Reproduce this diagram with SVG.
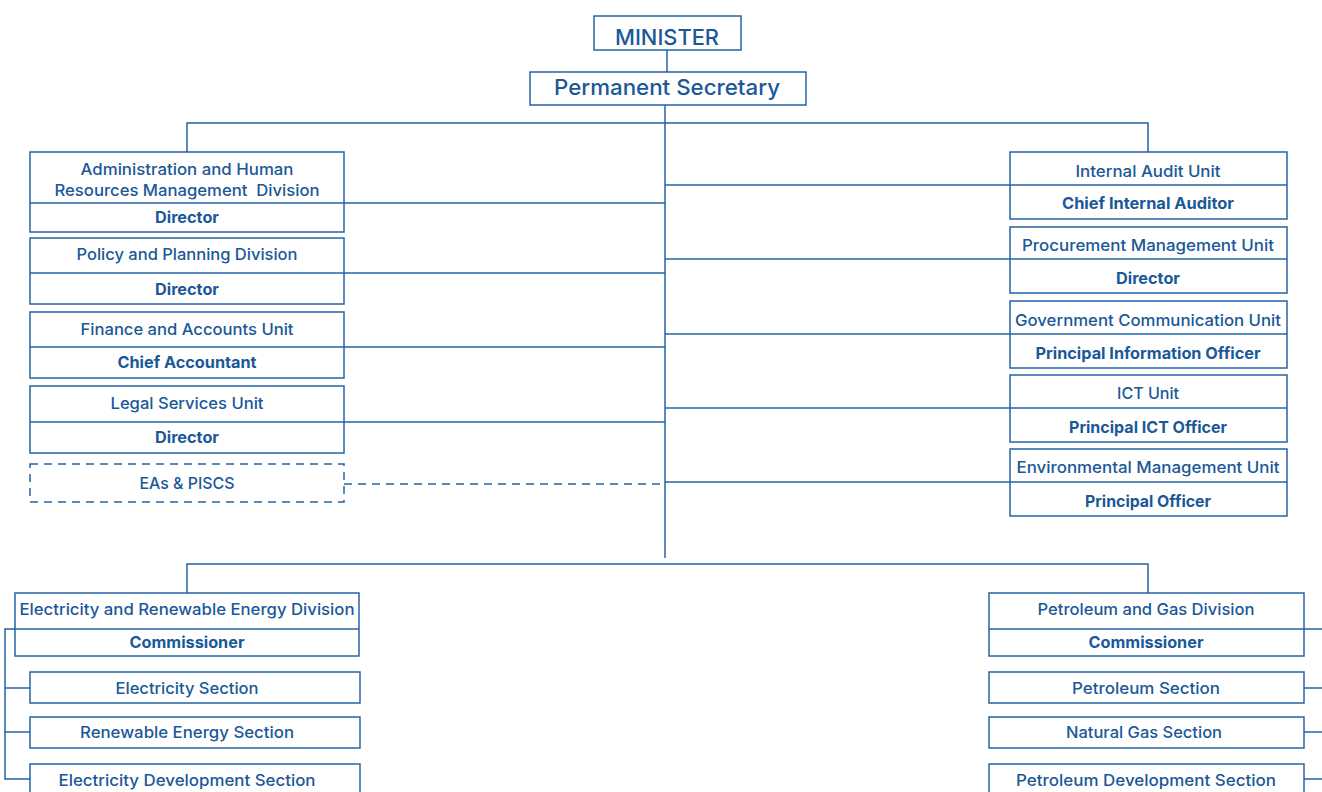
<svg xmlns="http://www.w3.org/2000/svg" width="1322" height="792" viewBox="0 0 1322 792">
  <style>
    .box { fill: #ffffff; stroke: #2563a6; stroke-width: 1.5; }
    .dashbox { fill: #ffffff; stroke: #2563a6; stroke-width: 1.5; stroke-dasharray: 8 6; }
    .div { stroke: #2563a6; stroke-width: 1.5; fill: none; }
    .link { stroke: #2563a6; stroke-width: 1.5; fill: none; }
    .dash { stroke: #2563a6; stroke-width: 1.5; fill: none; stroke-dasharray: 8 6; }
    text { font-family: Inter, "Open Sans", "Liberation Sans", sans-serif; fill: #1a5898; text-anchor: middle; font-size: 16px; font-weight: 500; }
    .b { font-weight: 700; font-size: 16px; }
    .big { font-size: 22px; font-weight: 500; }
  </style>

  <!-- connectors -->
  <g id="connectors">
    <line class="link" x1="667" y1="50" x2="667" y2="72"/>
    <line class="link" x1="665" y1="105" x2="665" y2="558"/>
    <polyline class="link" points="187,152 187,123 1148,123 1148,152"/>
    <!-- left staff units -->
    <line class="link" x1="344" y1="203" x2="665" y2="203"/>
    <line class="link" x1="344" y1="273" x2="665" y2="273"/>
    <line class="link" x1="344" y1="347" x2="665" y2="347"/>
    <line class="link" x1="344" y1="422" x2="665" y2="422"/>
    <line class="dash" x1="344" y1="484" x2="665" y2="484"/>
    <!-- right staff units -->
    <line class="link" x1="665" y1="185" x2="1010" y2="185"/>
    <line class="link" x1="665" y1="259" x2="1010" y2="259"/>
    <line class="link" x1="665" y1="334" x2="1010" y2="334"/>
    <line class="link" x1="665" y1="408" x2="1010" y2="408"/>
    <line class="link" x1="665" y1="482" x2="1010" y2="482"/>
    <!-- divisions bus -->
    <polyline class="link" points="187,593 187,564 1148,564 1148,593"/>
    <!-- electricity division sections -->
    <polyline class="link" points="15,629 5,629 5,779 30,779"/>
    <line class="link" x1="5" y1="688" x2="30" y2="688"/>
    <line class="link" x1="5" y1="732" x2="30" y2="732"/>
    <!-- petroleum division sections -->
    <line class="link" x1="1304" y1="629" x2="1322" y2="629"/>
    <line class="link" x1="1304" y1="688" x2="1322" y2="688"/>
    <line class="link" x1="1304" y1="732" x2="1322" y2="732"/>
    <line class="link" x1="1304" y1="779" x2="1322" y2="779"/>
  </g>

  <g id="minister">
    <rect class="box" x="594" y="16" width="147" height="34"/>
    <text class="big" x="667" y="45" textLength="104" lengthAdjust="spacingAndGlyphs">MINISTER</text>
  </g>

  <g id="permanent-secretary">
    <rect class="box" x="530" y="72" width="276" height="33"/>
    <text class="big" x="667" y="95" textLength="226" lengthAdjust="spacingAndGlyphs">Permanent Secretary</text>
  </g>

  <g id="admin-hr">
    <rect class="box" x="30" y="152" width="314" height="80"/>
    <line class="div" x1="30" y1="203" x2="344" y2="203"/>
    <text x="187" y="175" textLength="213" lengthAdjust="spacingAndGlyphs">Administration and Human</text>
    <text x="187" y="196" xml:space="preserve" textLength="265" lengthAdjust="spacingAndGlyphs">Resources Management  Division</text>
    <text class="b" x="187" y="223" textLength="64" lengthAdjust="spacingAndGlyphs">Director</text>
  </g>

  <g id="policy-planning">
    <rect class="box" x="30" y="238" width="314" height="66"/>
    <line class="div" x1="30" y1="273" x2="344" y2="273"/>
    <text x="187" y="260" textLength="221" lengthAdjust="spacingAndGlyphs">Policy and Planning Division</text>
    <text class="b" x="187" y="295" textLength="64" lengthAdjust="spacingAndGlyphs">Director</text>
  </g>

  <g id="finance-accounts">
    <rect class="box" x="30" y="312" width="314" height="66"/>
    <line class="div" x1="30" y1="347" x2="344" y2="347"/>
    <text x="187" y="335" textLength="213" lengthAdjust="spacingAndGlyphs">Finance and Accounts Unit</text>
    <text class="b" x="187" y="368" textLength="139" lengthAdjust="spacingAndGlyphs">Chief Accountant</text>
  </g>

  <g id="legal-services">
    <rect class="box" x="30" y="386" width="314" height="67"/>
    <line class="div" x1="30" y1="422" x2="344" y2="422"/>
    <text x="187" y="409" textLength="153" lengthAdjust="spacingAndGlyphs">Legal Services Unit</text>
    <text class="b" x="187" y="443" textLength="64" lengthAdjust="spacingAndGlyphs">Director</text>
  </g>

  <g id="eas-piscs">
    <rect class="dashbox" x="30" y="464" width="314" height="38"/>
    <text x="187" y="489" textLength="95" lengthAdjust="spacingAndGlyphs">EAs &amp; PISCS</text>
  </g>

  <g id="internal-audit">
    <rect class="box" x="1010" y="152" width="277" height="67"/>
    <line class="div" x1="1010" y1="185" x2="1287" y2="185"/>
    <text x="1148" y="177" textLength="145" lengthAdjust="spacingAndGlyphs">Internal Audit Unit</text>
    <text class="b" x="1148" y="209" textLength="172" lengthAdjust="spacingAndGlyphs">Chief Internal Auditor</text>
  </g>

  <g id="procurement">
    <rect class="box" x="1010" y="227" width="277" height="66"/>
    <line class="div" x1="1010" y1="259" x2="1287" y2="259"/>
    <text x="1148" y="251" textLength="252" lengthAdjust="spacingAndGlyphs">Procurement Management Unit</text>
    <text class="b" x="1148" y="284" textLength="64" lengthAdjust="spacingAndGlyphs">Director</text>
  </g>

  <g id="government-communication">
    <rect class="box" x="1010" y="301" width="277" height="67"/>
    <line class="div" x1="1010" y1="334" x2="1287" y2="334"/>
    <text x="1148" y="326" textLength="266" lengthAdjust="spacingAndGlyphs">Government Communication Unit</text>
    <text class="b" x="1148" y="359" textLength="225" lengthAdjust="spacingAndGlyphs">Principal Information Officer</text>
  </g>

  <g id="ict">
    <rect class="box" x="1010" y="375" width="277" height="67"/>
    <line class="div" x1="1010" y1="408" x2="1287" y2="408"/>
    <text x="1148" y="399" textLength="62" lengthAdjust="spacingAndGlyphs">ICT Unit</text>
    <text class="b" x="1148" y="433" textLength="158" lengthAdjust="spacingAndGlyphs">Principal ICT Officer</text>
  </g>

  <g id="environmental-management">
    <rect class="box" x="1010" y="449" width="277" height="67"/>
    <line class="div" x1="1010" y1="482" x2="1287" y2="482"/>
    <text x="1148" y="473" textLength="263" lengthAdjust="spacingAndGlyphs">Environmental Management Unit</text>
    <text class="b" x="1148" y="507" textLength="126" lengthAdjust="spacingAndGlyphs">Principal Officer</text>
  </g>

  <g id="electricity-division">
    <rect class="box" x="15" y="593" width="344" height="63"/>
    <line class="div" x1="15" y1="629" x2="359" y2="629"/>
    <text x="187" y="615" textLength="335" lengthAdjust="spacingAndGlyphs">Electricity and Renewable Energy Division</text>
    <text class="b" x="187" y="648" textLength="115" lengthAdjust="spacingAndGlyphs">Commissioner</text>
  </g>

  <g id="electricity-section">
    <rect class="box" x="30" y="672" width="330" height="31"/>
    <text x="187" y="694" textLength="143" lengthAdjust="spacingAndGlyphs">Electricity Section</text>
  </g>

  <g id="renewable-energy-section">
    <rect class="box" x="30" y="717" width="330" height="31"/>
    <text x="187" y="738" textLength="214" lengthAdjust="spacingAndGlyphs">Renewable Energy Section</text>
  </g>

  <g id="electricity-development-section">
    <rect class="box" x="30" y="764" width="330" height="40"/>
    <text x="187" y="786" textLength="257" lengthAdjust="spacingAndGlyphs">Electricity Development Section</text>
  </g>

  <g id="petroleum-division">
    <rect class="box" x="989" y="593" width="315" height="63"/>
    <line class="div" x1="989" y1="629" x2="1304" y2="629"/>
    <text x="1146" y="615" textLength="217" lengthAdjust="spacingAndGlyphs">Petroleum and Gas Division</text>
    <text class="b" x="1146" y="648" textLength="115" lengthAdjust="spacingAndGlyphs">Commissioner</text>
  </g>

  <g id="petroleum-section">
    <rect class="box" x="989" y="672" width="315" height="31"/>
    <text x="1146" y="694" textLength="148" lengthAdjust="spacingAndGlyphs">Petroleum Section</text>
  </g>

  <g id="natural-gas-section">
    <rect class="box" x="989" y="717" width="315" height="31"/>
    <text x="1144" y="738" textLength="156" lengthAdjust="spacingAndGlyphs">Natural Gas Section</text>
  </g>

  <g id="petroleum-development-section">
    <rect class="box" x="989" y="764" width="315" height="40"/>
    <text x="1146" y="786" textLength="260" lengthAdjust="spacingAndGlyphs">Petroleum Development Section</text>
  </g>
</svg>
